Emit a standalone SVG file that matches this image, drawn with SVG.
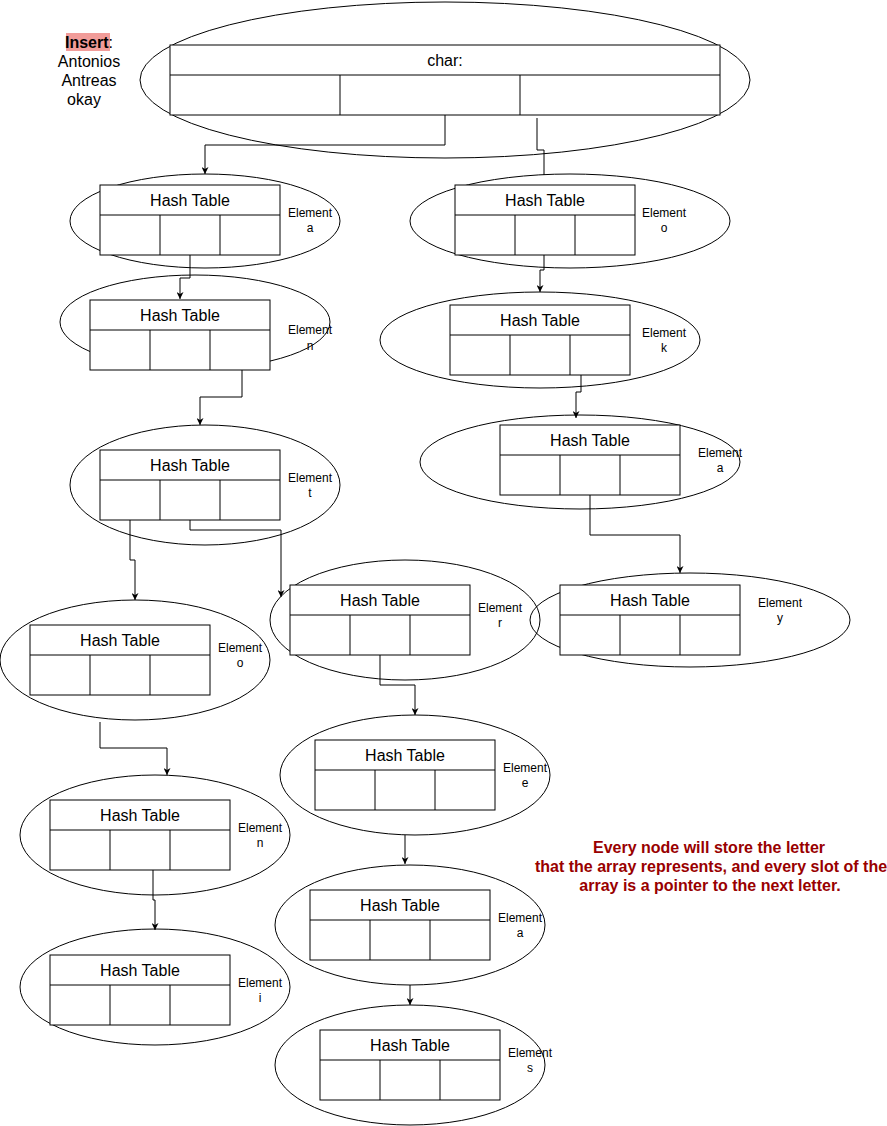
<svg xmlns="http://www.w3.org/2000/svg" width="887" height="1126" viewBox="0 0 887 1126">
<style>
.ell{fill:none;stroke:#000;stroke-width:1}
.tb{fill:#fff;stroke:#000;stroke-width:1}
.ln{fill:none;stroke:#000;stroke-width:1}
.ht{font-family:"Liberation Sans",Arial,sans-serif;font-size:16px;text-anchor:middle;fill:#000}
.el{font-family:"Liberation Sans",Arial,sans-serif;font-size:12px;text-anchor:middle;fill:#000}
.note{font-family:"Liberation Sans",Arial,sans-serif;font-size:16px;font-weight:bold;text-anchor:middle;fill:#990000}
.ins{font-family:"Liberation Sans",Arial,sans-serif;font-size:16px;text-anchor:middle;fill:#000}
</style>
<defs>
<marker id="arr" viewBox="0 0 10 10" refX="10" refY="5" markerWidth="7" markerHeight="7" orient="auto" markerUnits="userSpaceOnUse">
<path d="M0,0 L10,5 L0,10 L3,5 Z" fill="#000"/>
</marker>
<g id="ht">
<rect class="tb" x="0" y="0" width="180" height="70"/>
<line class="ln" x1="0" y1="30" x2="180" y2="30"/>
<line class="ln" x1="60" y1="30" x2="60" y2="70"/>
<line class="ln" x1="120" y1="30" x2="120" y2="70"/>
<text class="ht" x="90" y="21">Hash Table</text>
</g>
</defs>
<rect width="887" height="1126" fill="#fff"/>

<g id="insert-label">
<rect x="66" y="33" width="44" height="18" fill="#f19c99"/>
<text class="ins" x="89" y="48"><tspan font-weight="bold">Insert</tspan>:</text>
<text class="ins" x="89" y="67">Antonios</text>
<text class="ins" x="89" y="86">Antreas</text>
<text class="ins" x="84" y="105">okay</text>
</g>

<g id="root">
<ellipse class="ell" cx="445" cy="80" rx="305" ry="78"/>
<rect class="tb" x="170" y="45" width="550" height="70"/>
<line class="ln" x1="170" y1="75" x2="720" y2="75"/>
<line class="ln" x1="340" y1="75" x2="340" y2="115"/>
<line class="ln" x1="520" y1="75" x2="520" y2="115"/>
<text class="ht" x="445" y="66">char:</text>
</g>

<g id="node-a1">
<ellipse class="ell" cx="205" cy="221" rx="135" ry="47"/>
<use href="#ht" x="100" y="185"/>
<text class="el" x="310" y="217">Element</text><text class="el" x="310" y="232">a</text>
</g>
<g id="node-o1">
<ellipse class="ell" cx="570" cy="221" rx="160" ry="47"/>
<use href="#ht" x="455" y="185"/>
<text class="el" x="664" y="217">Element</text><text class="el" x="664" y="232">o</text>
</g>
<g id="node-n1">
<ellipse class="ell" cx="195" cy="322" rx="135" ry="47"/>
<use href="#ht" x="90" y="300"/>
<text class="el" x="310" y="334">Element</text><text class="el" x="310" y="350">n</text>
</g>
<g id="node-k">
<ellipse class="ell" cx="540" cy="340" rx="160" ry="48"/>
<use href="#ht" x="450" y="305"/>
<text class="el" x="664" y="337">Element</text><text class="el" x="664" y="352">k</text>
</g>
<g id="node-t">
<ellipse class="ell" cx="205" cy="485" rx="135" ry="60"/>
<use href="#ht" x="100" y="450"/>
<text class="el" x="310" y="482">Element</text><text class="el" x="310" y="497">t</text>
</g>
<g id="node-a2">
<ellipse class="ell" cx="580" cy="462" rx="160" ry="47"/>
<use href="#ht" x="500" y="425"/>
<text class="el" x="720" y="457">Element</text><text class="el" x="720" y="472">a</text>
</g>
<g id="node-o2">
<ellipse class="ell" cx="135" cy="660" rx="135" ry="60"/>
<use href="#ht" x="30" y="625"/>
<text class="el" x="240" y="652">Element</text><text class="el" x="240" y="667">o</text>
</g>
<g id="node-r">
<ellipse class="ell" cx="405" cy="620" rx="135" ry="60"/>
<use href="#ht" x="290" y="585"/>
<text class="el" x="500" y="612">Element</text><text class="el" x="500" y="627">r</text>
</g>
<g id="node-y">
<ellipse class="ell" cx="690" cy="620" rx="160" ry="47"/>
<use href="#ht" x="560" y="585"/>
<text class="el" x="780" y="607">Element</text><text class="el" x="780" y="622">y</text>
</g>
<g id="node-e">
<ellipse class="ell" cx="415" cy="775" rx="135" ry="60"/>
<use href="#ht" x="315" y="740"/>
<text class="el" x="525" y="772">Element</text><text class="el" x="525" y="787">e</text>
</g>
<g id="node-n2">
<ellipse class="ell" cx="155" cy="835" rx="135" ry="60"/>
<use href="#ht" x="50" y="800"/>
<text class="el" x="260" y="832">Element</text><text class="el" x="260" y="847">n</text>
</g>
<g id="node-a3">
<ellipse class="ell" cx="410" cy="925" rx="135" ry="60"/>
<use href="#ht" x="310" y="890"/>
<text class="el" x="520" y="922">Element</text><text class="el" x="520" y="937">a</text>
</g>
<g id="node-i">
<ellipse class="ell" cx="155" cy="987" rx="135" ry="58"/>
<use href="#ht" x="50" y="955"/>
<text class="el" x="260" y="987">Element</text><text class="el" x="260" y="1002">i</text>
</g>
<g id="node-s">
<ellipse class="ell" cx="410" cy="1065" rx="135" ry="60"/>
<use href="#ht" x="320" y="1030"/>
<text class="el" x="530" y="1057">Element</text><text class="el" x="530" y="1072">s</text>
</g>

<g id="connectors">
<polyline class="ln" points="445,115 445,145 205,145 205,174" marker-end="url(#arr)"/>
<polyline class="ln" points="537,118 537,150 544,150 544,175"/>
<polyline class="ln" points="190,255 190,278 180,278 180,299" marker-end="url(#arr)"/>
<polyline class="ln" points="242,370 242,397 200,397 200,425" marker-end="url(#arr)"/>
<polyline class="ln" points="544,255 544,270 540,270 540,292" marker-end="url(#arr)"/>
<polyline class="ln" points="581,375 581,392 576,392 576,418" marker-end="url(#arr)"/>
<polyline class="ln" points="590,495 590,535 680,535 680,573" marker-end="url(#arr)"/>
<polyline class="ln" points="130,520 130,560 135,560 135,600" marker-end="url(#arr)"/>
<polyline class="ln" points="190,520 190,530 281,530 281,597" marker-end="url(#arr)"/>
<polyline class="ln" points="100,722 100,748 167,748 167,775" marker-end="url(#arr)"/>
<polyline class="ln" points="380,655 380,685 415,685 415,715" marker-end="url(#arr)"/>
<polyline class="ln" points="405,835 405,864" marker-end="url(#arr)"/>
<polyline class="ln" points="153,870 153,900 155,900 155,930" marker-end="url(#arr)"/>
<polyline class="ln" points="410,985 410,1005" marker-end="url(#arr)"/>
</g>

<g id="note">
<text class="note" x="709" y="853">Every node will store the letter</text>
<text class="note" x="711" y="872">that the array represents, and every slot of the</text>
<text class="note" x="710" y="891">array is a pointer to the next letter.</text>
</g>
</svg>
